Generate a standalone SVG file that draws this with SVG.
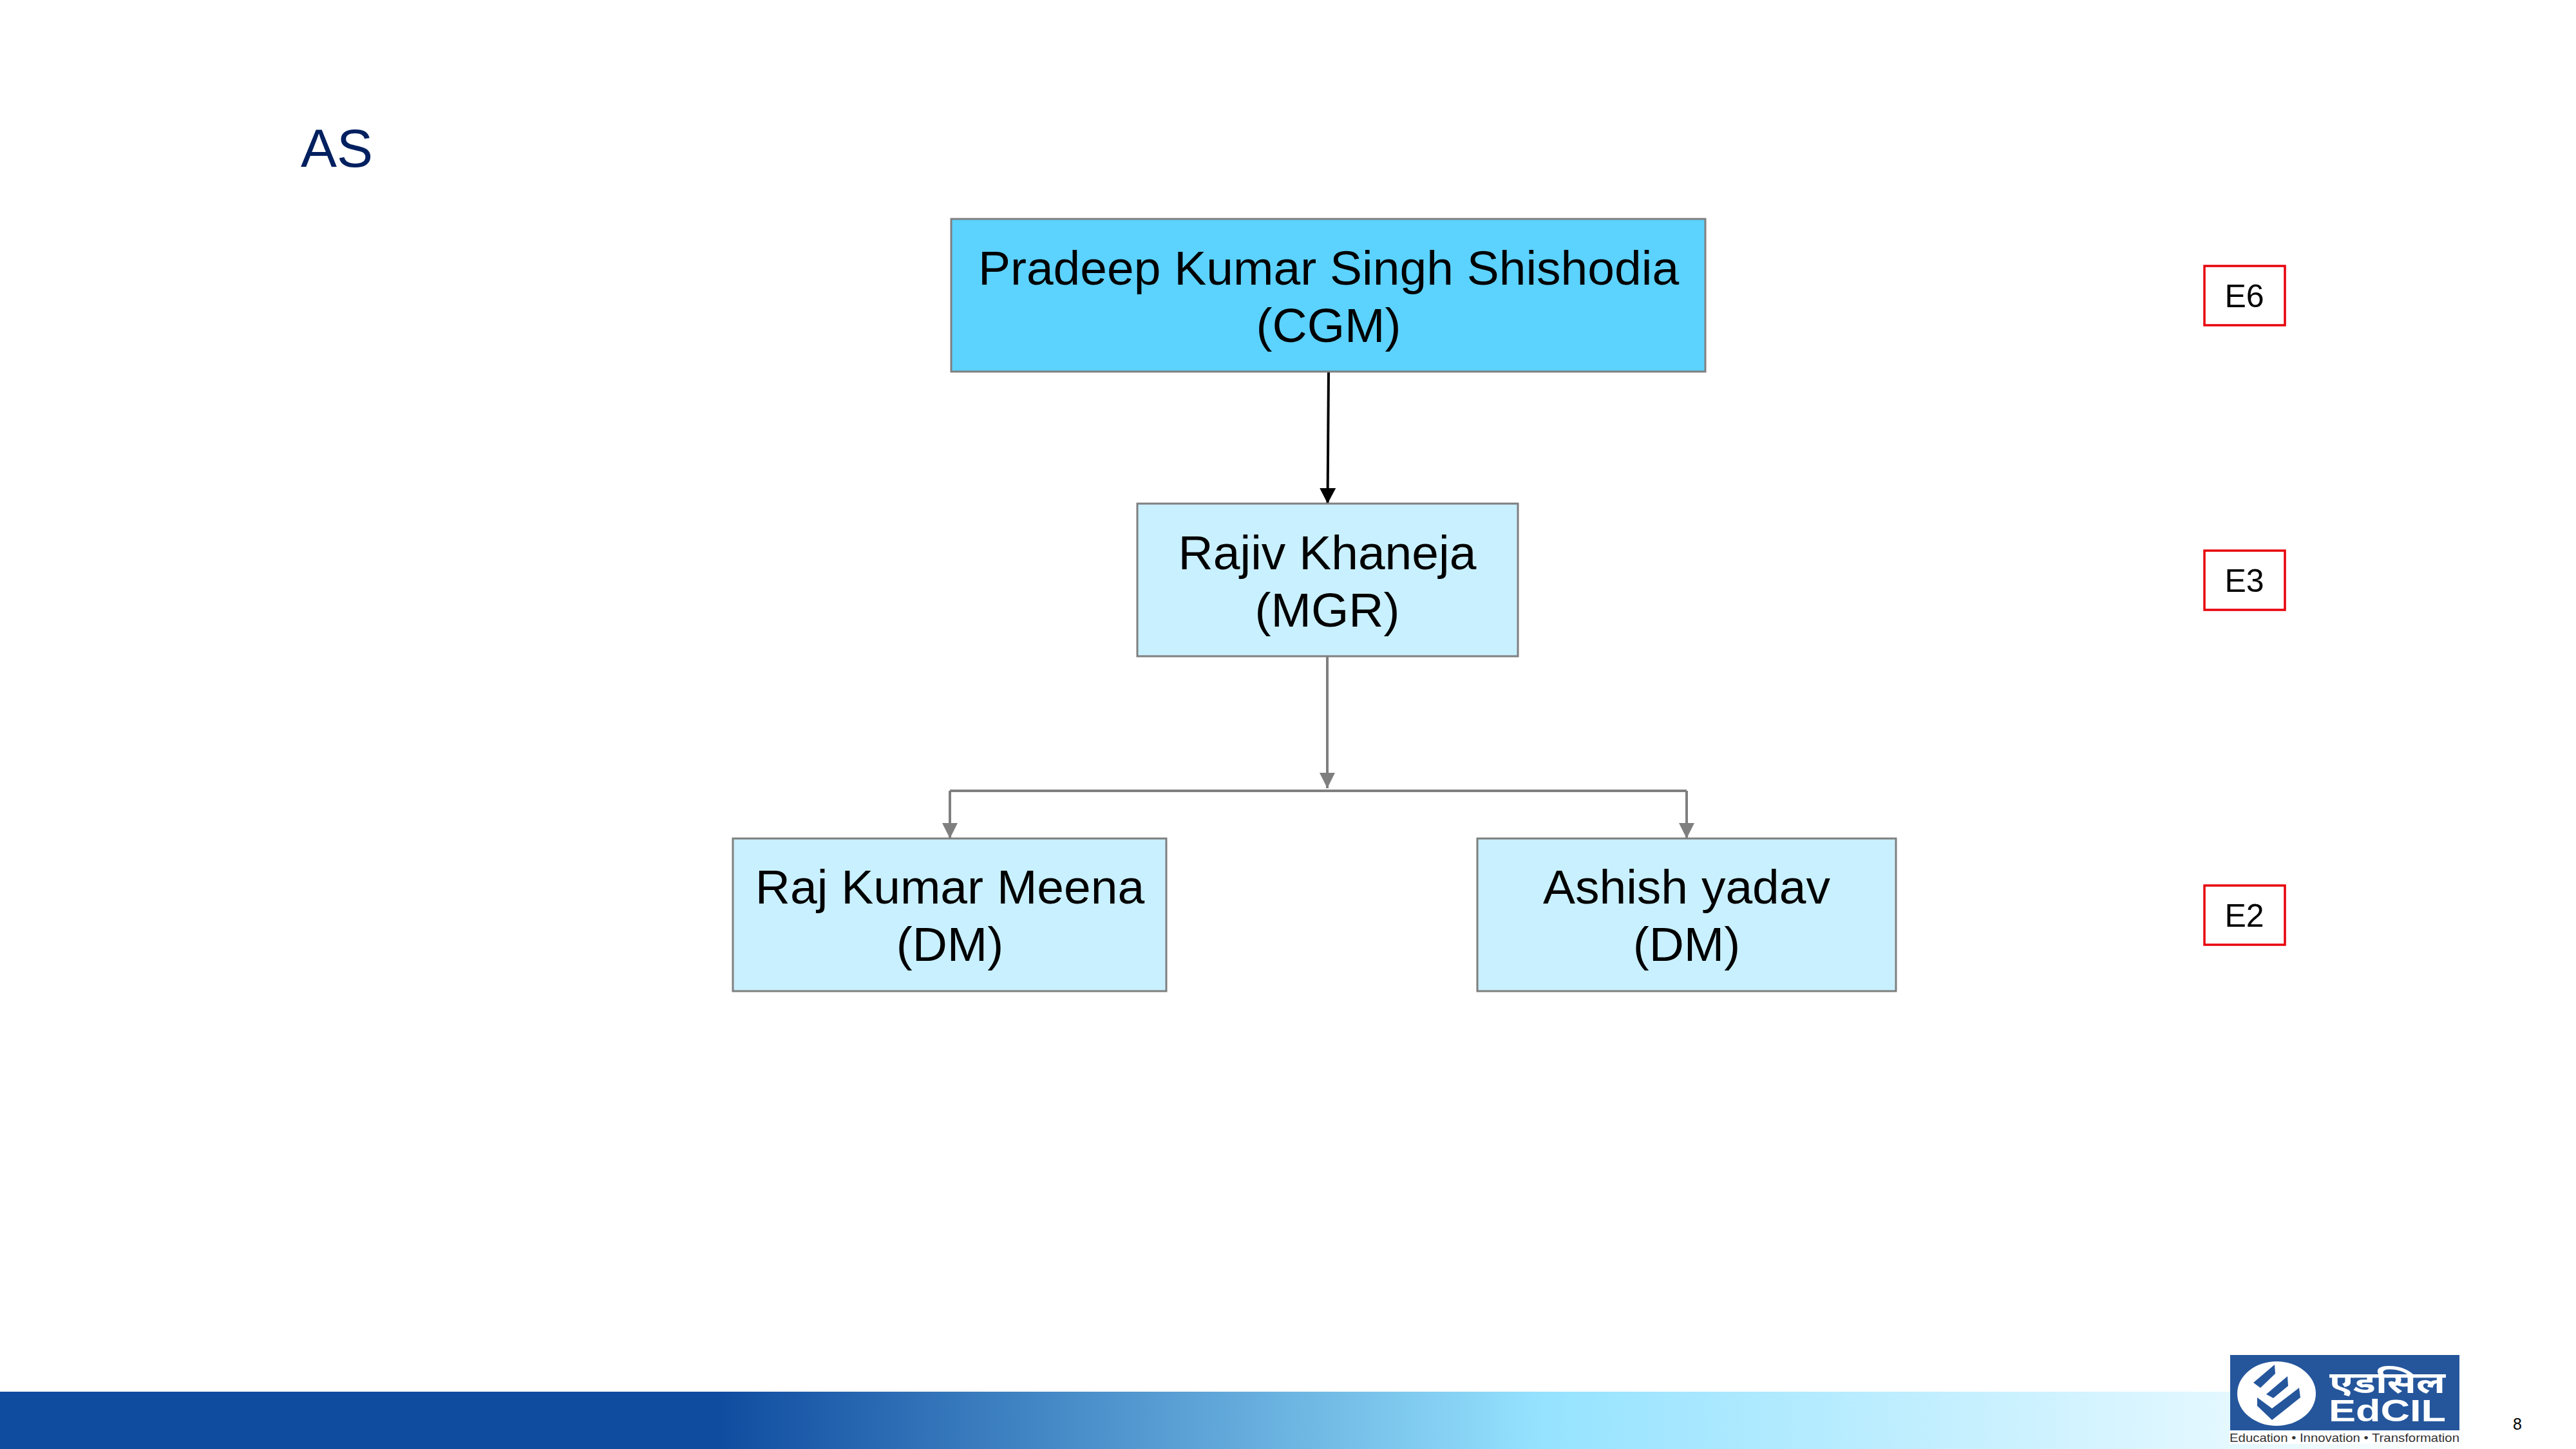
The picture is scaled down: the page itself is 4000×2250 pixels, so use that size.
<svg xmlns="http://www.w3.org/2000/svg" width="4000" height="2250" viewBox="0 0 4000 2250">
<style>
text{font-family:"Liberation Sans",Arial,sans-serif;fill:#000}
.n{font-size:75px;text-anchor:middle}
.b{stroke:#7f7f7f;stroke-width:3}
.g{fill:none;stroke:#7f7f7f;stroke-width:4}
.e rect{fill:#fff;stroke:#e8000b;stroke-width:3.5}
.e text{font-size:50px;text-anchor:middle}
</style>
<defs>
<linearGradient id="bar" x1="0" y1="0" x2="1" y2="0">
<stop offset="0" stop-color="#0f4ca0"/><stop offset="0.29" stop-color="#0f4ca0"/><stop offset="0.625" stop-color="#96e3ff"/><stop offset="1" stop-color="#fff"/>
</linearGradient>
<marker id="ag" markerUnits="userSpaceOnUse" markerWidth="24" markerHeight="26" refX="24" refY="12" orient="auto"><path d="M0 0L24 12L0 24z" fill="#7f7f7f"/></marker>
<marker id="ak" markerUnits="userSpaceOnUse" markerWidth="24" markerHeight="26" refX="24" refY="12.500" orient="auto"><path d="M0 0L24 12.500L0 25z" fill="#000"/></marker>
</defs>
<rect width="4000" height="2250" fill="#fff"/>
<rect y="2161" width="3840" height="89" fill="url(#bar)"/>
<text x="467" y="259" font-size="84" style="fill:#002060">AS</text>
<g id="connectors">
<path d="M2063 577L2061.500 782" fill="none" stroke="#000" stroke-width="4" marker-end="url(#ak)"/>
<path class="g" d="M2061 1019V1224" marker-end="url(#ag)"/>
<path class="g" d="M1475 1228H2619"/>
<path class="g" d="M1475 1228V1302" marker-end="url(#ag)"/>
<path class="g" d="M2619 1228V1302" marker-end="url(#ag)"/>
</g>
<g id="node-cgm"><rect class="b" x="1477" y="340" width="1171" height="237" fill="#5cd2ff"/><text class="n" x="2063" y="442">Pradeep Kumar Singh Shishodia</text><text class="n" x="2063" y="531">(CGM)</text></g>
<g id="node-mgr"><rect class="b" x="1766" y="782" width="591" height="237" fill="#c9f0ff"/><text class="n" x="2061" y="884">Rajiv Khaneja</text><text class="n" x="2061" y="973">(MGR)</text></g>
<g id="node-dm1"><rect class="b" x="1138" y="1302" width="673" height="237" fill="#c9f0ff"/><text class="n" x="1475" y="1403">Raj Kumar Meena</text><text class="n" x="1475" y="1492">(DM)</text></g>
<g id="node-dm2"><rect class="b" x="2294" y="1302" width="650" height="237" fill="#c9f0ff"/><text class="n" x="2619" y="1403">Ashish yadav</text><text class="n" x="2619" y="1492">(DM)</text></g>
<g id="grade-e6" class="e"><rect x="3423" y="413" width="125" height="92"/><text x="3485" y="477">E6</text></g>
<g id="grade-e3" class="e"><rect x="3423" y="855" width="125" height="92"/><text x="3485" y="919">E3</text></g>
<g id="grade-e2" class="e"><rect x="3423" y="1375" width="125" height="92"/><text x="3485" y="1439">E2</text></g>
<g id="logo">
<rect x="3462" y="2222" width="357" height="20" fill="#fff"/>
<rect x="3463" y="2104" width="356" height="117" fill="#25569c"/>
<ellipse cx="3535" cy="2164" rx="61" ry="50" fill="#fff"/>
<path d="M3499 2147L3532 2119L3533 2133L3510 2155z M3519 2165L3552 2137L3553 2152L3530 2171z M3505 2170L3528 2187L3570 2155L3572 2170L3528 2205L3505 2183z" fill="#25569c"/>
<text x="3617" y="2163" font-size="46" textLength="180" lengthAdjust="spacingAndGlyphs" style="fill:#fff;font-family:'Noto Sans','Noto Sans Devanagari',sans-serif;font-weight:700">एडसिल</text>
<text x="3616" y="2207" font-size="48" textLength="182" lengthAdjust="spacingAndGlyphs" style="fill:#fff;font-weight:700">EdCIL</text>
<text x="3462" y="2239" font-size="19" textLength="357" lengthAdjust="spacingAndGlyphs" style="fill:#333">Education • Innovation • Transformation</text>
</g>
<text x="3902" y="2220" font-size="25">8</text>
</svg>
